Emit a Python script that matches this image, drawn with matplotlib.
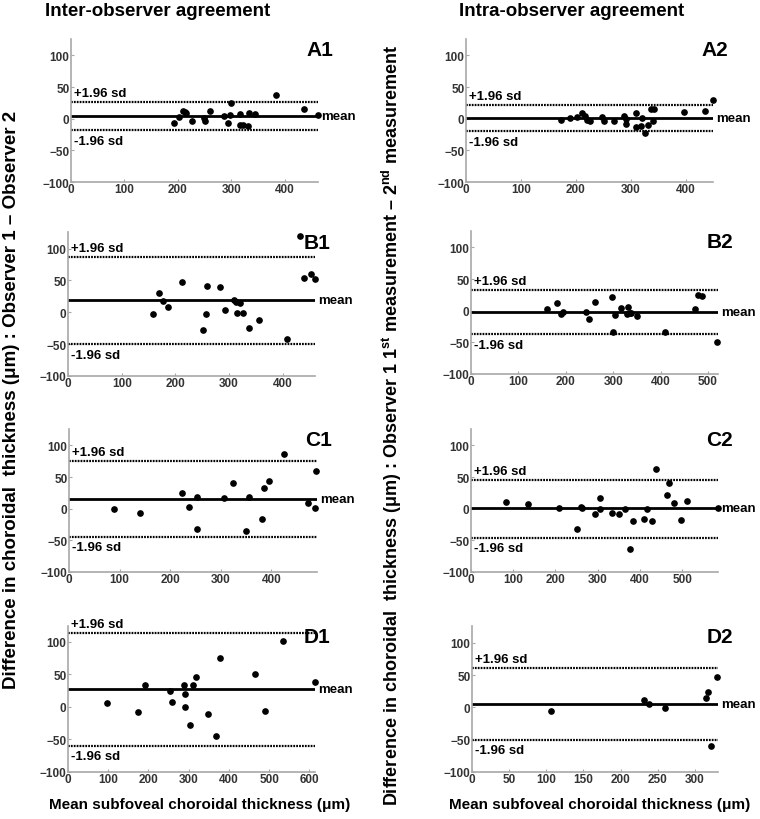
import numpy as np
import matplotlib
matplotlib.use('Agg')
import matplotlib.pyplot as plt

plt.rcParams['font.family'] = ['Liberation Sans', 'DejaVu Sans']
plt.rcParams['font.weight'] = 'bold'
plt.rcParams['mathtext.fontset'] = 'custom'
plt.rcParams['mathtext.rm'] = 'Liberation Sans:bold'
plt.rcParams['mathtext.it'] = 'Liberation Sans:bold'
plt.rcParams['mathtext.bf'] = 'Liberation Sans:bold'

# A1 - inter-observer
a1_x = [192, 202, 209, 214, 216, 226, 249, 250, 260, 286, 293, 297, 300, 316, 317, 321, 331, 333, 344, 384, 435, 462]
a1_y = [-7, 3, 12, 10, 9, -3, 1, -4, 13, 5, -7, 6, 25, -10, 7, -10, -11, 9, 8, 37, 15, 6]
a1_lines = [26, 5, -18.5]

# A2 - intra-observer
a2_x = [173, 189, 202, 212, 216, 220, 225, 247, 251, 269, 287, 291, 292, 309, 310, 318, 321, 327, 332, 337, 342, 341, 397, 436, 450]
a2_y = [-1.5, 1, 3, 9.5, 5, -1.5, -3, 3.5, -4, -4, 5, 0, -8.5, 8.5, -13, -11, 1, -22, -10.5, 15, 15, -3, 10.5, 11.5, 29]
a2_lines = [22, 1, -20]

# B1
b1_x = [159, 169, 176, 186, 212, 251, 257, 258, 283, 292, 310, 313, 315, 321, 325, 338, 356, 407, 432, 440, 452, 460]
b1_y = [-3, 30, 17, 8, 47, -28, -3, 42, 39.5, 3, 19.5, 16, -1.5, 14, -1.5, -24, -12.5, -42.5, 119.5, 54, 60, 52.5]
b1_lines = [87, 18.5, -50.5]

# B2
b2_x = [160, 182, 189, 195, 242, 249, 262, 298, 300, 303, 317, 329, 332, 335, 337, 351, 409, 473, 478, 487, 519]
b2_y = [2, 12.5, -4.5, -1.5, -2, -13, 14.5, 21, -33, -7, 4, -5, 5.5, -4, -3, -9, -33, 2.5, 25.5, 23, -50]
b2_lines = [33, -2.5, -37.5]

# C1
c1_x = [89, 141, 223, 237, 252, 252, 306, 325, 350, 356, 381, 385, 396, 424, 472, 487, 489]
c1_y = [0, -6, 25, 2, 19, -32.5, 17, 40.5, -35, 18.5, -16, 33, 44.5, 87, 9.5, 1.5, 59.5]
c1_lines = [76, 16, -44]

# C2
c2_x = [84, 135, 209, 250, 260, 263, 294, 305, 306, 335, 350, 365, 377, 383, 409, 418, 428, 437, 465, 469, 481, 497, 512, 585]
c2_y = [10.5, 7, 1, -31.5, 3.5, 0.5, -8, 17.5, -1, -6.5, -8.5, -0.5, -63, -19, -16, -0.5, -19.5, 62, 22, 41, 9, -17.5, 12.5, 1]
c2_lines = [45, 0.5, -46]

# D1
d1_x = [98, 173, 192, 253, 258, 288, 290, 292, 304, 310, 318, 348, 368, 379, 465, 490, 534, 614]
d1_y = [5.5, -8, 33, 24.5, 7.5, 33.5, -1, 19.5, -28, 33.5, 45.5, -11.5, -45, 75, 50, -6.5, 101.5, 37.5]
d1_lines = [113, 27.5, -59.5]

# D2
d2_x = [106, 231, 238, 260, 315, 318, 322, 330]
d2_y = [-6, 11.5, 6, -1, 15, 23.5, -59, 47]
d2_lines = [61, 5, -50.5]

panel_names = ['A1', 'A2', 'B1', 'B2', 'C1', 'C2', 'D1', 'D2']
panel_data = [(a1_x, a1_y, a1_lines), (a2_x, a2_y, a2_lines),
              (b1_x, b1_y, b1_lines), (b2_x, b2_y, b2_lines),
              (c1_x, c1_y, c1_lines), (c2_x, c2_y, c2_lines),
              (d1_x, d1_y, d1_lines), (d2_x, d2_y, d2_lines)]
x_max = [462, 450, 460, 521, 490, 585, 614, 331]
x_step = [100, 100, 100, 100, 100, 100, 100, 50]

# axes boxes in pixels: left, bottom(from top), width, height
boxes = [(71, 183, 247, 143), (466, 183, 247, 143),
         (68, 377, 247, 144), (471, 375, 247, 143),
         (69, 573, 248, 143), (471, 573, 247, 143),
         (68, 773, 247, 146), (472, 773, 246, 146)]

W, H = 760, 820
fig = plt.figure(figsize=(W / 100, H / 100), dpi=100)

for name, (x, y, lines), xm, st, (l, b, w, h) in zip(panel_names, panel_data, x_max, x_step, boxes):
    ax = fig.add_axes([l / W, 1 - b / H, w / W, h / H])
    if name == 'D1':
        top = 124
    else:
        top = 126
    ax.set_ylim(-100, top)
    ax.set_xlim(0, xm)
    upper, mean, lower = lines
    ax.axhline(mean, color='black', lw=2)
    ax.axhline(upper, color='black', lw=1.6, ls=(0, (0.8, 0.5)))
    ax.axhline(lower, color='black', lw=1.6, ls=(0, (0.8, 0.5)))
    ax.plot(x, y, 'o', color='black', ms=3.8, clip_on=False, zorder=5)
    ax.set_xticks(np.arange(0, xm + 1, st))
    ax.set_yticks([-100, -50, 0, 50, 100])
    for s in ['top', 'right']:
        ax.spines[s].set_visible(False)
    for s in ['left', 'bottom']:
        ax.spines[s].set_color('#a8a8a8')
        ax.spines[s].set_linewidth(1.2)
    ax.tick_params(direction='in', length=2.5, color='#a8a8a8', labelsize=8.5,
                   labelcolor='#333333', pad=1)
    ax.annotate('+1.96 sd', xy=(0, upper), xycoords=('axes fraction', 'data'),
                xytext=(2, 2), textcoords='offset points', ha='left', va='bottom',
                fontsize=9.5, fontweight='bold')
    ax.annotate('-1.96 sd', xy=(0, lower), xycoords=('axes fraction', 'data'),
                xytext=(2, -3), textcoords='offset points', ha='left', va='top',
                fontsize=9.5, fontweight='bold')
    ax.annotate('mean', xy=(1, mean), xycoords=('axes fraction', 'data'),
                xytext=(2, 0), textcoords='offset points', ha='left', va='center',
                fontsize=9.5, fontweight='bold')
    ax.annotate(name, xy=(1, 1), xycoords='axes fraction',
                xytext=(11, -1), textcoords='offset points', ha='right', va='top',
                fontsize=15, fontweight='bold')

fig.text(158 / W, 1 - 12 / H, 'Inter-observer agreement', ha='center', va='center',
         fontsize=13.5, fontweight='bold')
fig.text(572 / W, 1 - 12 / H, 'Intra-observer agreement', ha='center', va='center',
         fontsize=13.5, fontweight='bold')
fig.text(200 / W, 1 - 805 / H, 'Mean subfoveal choroidal thickness (μm)', ha='center',
         va='center', fontsize=11, fontweight='bold')
fig.text(600 / W, 1 - 805 / H, 'Mean subfoveal choroidal thickness (μm)', ha='center',
         va='center', fontsize=11, fontweight='bold')
fig.text(12 / W, 1 - 400 / H, 'Difference in choroidal  thickness (μm) : Observer 1 – Observer 2',
         rotation=90, ha='center', va='center', fontsize=13.5, fontweight='bold')
fig.text(392 / W, 1 - 425 / H,
         r'Difference in choroidal  thickness (μm) : Observer 1 1$^{\rm st}$ measurement – 2$^{\rm nd}$ measurement',
         rotation=90, ha='center', va='center', fontsize=13, fontweight='bold')

fig.savefig('out.png', dpi=100)
